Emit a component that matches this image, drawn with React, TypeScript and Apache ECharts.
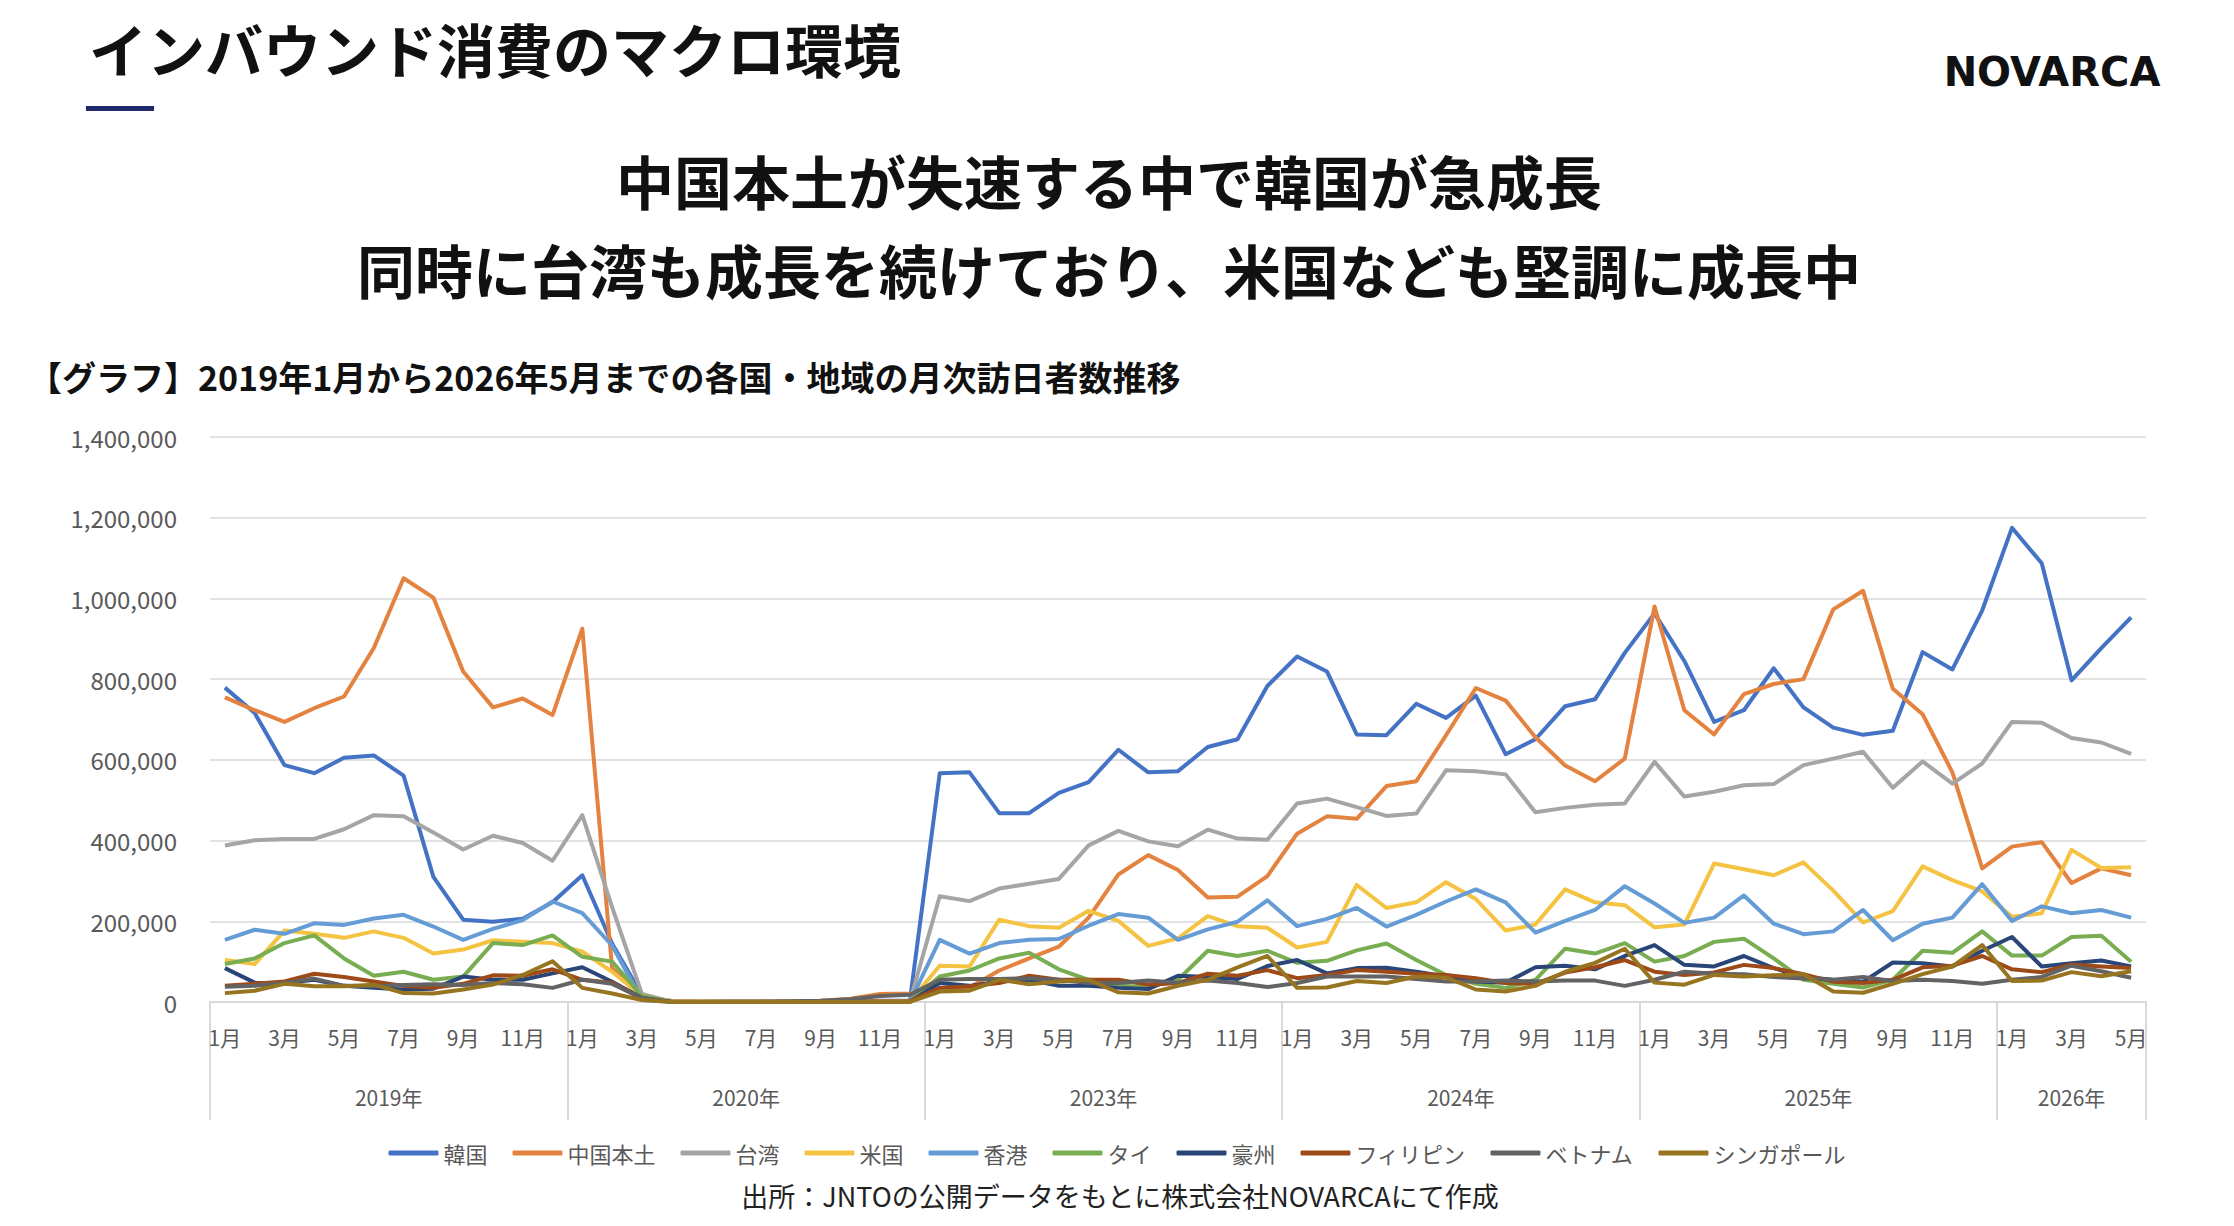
import React, { useEffect, useRef } from "react";
import * as echarts from "echarts";

// 横軸: 2019年・2020年・2023年〜2026年5月
const years = ["2019年", "2020年", "2023年", "2024年", "2025年", "2026年"];
const monthsPerYear = [12, 12, 12, 12, 12, 5];
const months = monthsPerYear.flatMap((n) => Array.from({ length: n }, (_, i) => `${i + 1}月`));

// 月次訪日者数（人）
const korea = [
  779000, 716000, 587000, 567000, 605000, 611000, 561000, 310000, 204000, 199000, 206000, 247000,
  314000, 145000, 17000, 1000, 500, 600, 700, 1000, 1500, 2000, 3000, 4000,
  567000, 569000, 468000, 468000, 518000, 545000, 625000, 569000, 572000, 632000, 651000, 783000,
  856000, 819000, 663000, 661000, 739000, 704000, 759000, 614000, 651000, 733000, 750000, 865000,
  963000, 845000, 694000, 723000, 827000, 730000, 680000, 662000, 672000, 867000, 824000, 970000,
  1175000, 1087000, 797000, 877000, 953000,
];
const china = [
  755000, 723000, 694000, 728000, 757000, 877000, 1050000, 1002000, 819000, 730000, 752000, 711000,
  925000, 84000, 10000, 3000, 1000, 1000, 1500, 2000, 3000, 8000, 20000, 21000,
  31000, 36000, 78000, 108000, 137000, 209000, 316000, 364000, 327000, 259000, 261000, 312000,
  417000, 460000, 454000, 535000, 547000, 661000, 778000, 747000, 656000, 586000, 547000, 603000,
  980000, 723000, 663000, 763000, 788000, 800000, 973000, 1019000, 776000, 713000, 569000, 331000,
  385000, 396000, 295000, 331000, 314000,
];
const taiwan = [
  388000, 401000, 404000, 404000, 428000, 463000, 460000, 420000, 378000, 412000, 394000, 350000,
  463000, 235000, 20000, 1000, 500, 500, 500, 500, 500, 1000, 1500, 2000,
  262000, 250000, 281000, 293000, 305000, 388000, 424000, 398000, 386000, 427000, 405000, 402000,
  492000, 504000, 483000, 461000, 467000, 574000, 572000, 564000, 470000, 481000, 489000, 492000,
  595000, 509000, 521000, 537000, 540000, 587000, 603000, 620000, 531000, 596000, 541000, 591000,
  694000, 692000, 654000, 643000, 615000,
];
const usa = [
  104000, 94000, 177000, 169000, 159000, 175000, 159000, 120000, 130000, 153000, 149000, 146000,
  125000, 75000, 15000, 1000, 1000, 1000, 1000, 1500, 1500, 1500, 1000, 1500,
  90000, 88000, 204000, 188000, 184000, 226000, 201000, 139000, 158000, 213000, 188000, 184000,
  135000, 149000, 290000, 233000, 247000, 297000, 255000, 177000, 192000, 279000, 247000, 240000,
  185000, 192000, 343000, 329000, 314000, 346000, 276000, 197000, 225000, 336000, 302000, 274000,
  211000, 220000, 377000, 332000, 334000,
];
const hongkong = [
  154000, 179000, 169000, 195000, 191000, 207000, 216000, 187000, 154000, 181000, 203000, 249000,
  220000, 140000, 5000, 300, 100, 100, 100, 100, 100, 200, 200, 200,
  154000, 120000, 146000, 154000, 156000, 189000, 218000, 209000, 154000, 180000, 199000, 252000,
  188000, 206000, 233000, 187000, 216000, 249000, 279000, 247000, 172000, 201000, 228000, 287000,
  244000, 196000, 209000, 264000, 194000, 168000, 175000, 228000, 153000, 194000, 209000, 292000,
  201000, 237000, 220000, 228000, 209000,
];
const thailand = [
  94000, 108000, 146000, 165000, 108000, 65000, 75000, 55000, 63000, 146000, 141000, 165000,
  112000, 100000, 15000, 500, 200, 200, 200, 200, 300, 500, 800, 1000,
  63000, 78000, 108000, 122000, 81000, 55000, 40000, 37000, 55000, 127000, 114000, 127000,
  97000, 102000, 128000, 145000, 104000, 67000, 45000, 35000, 55000, 132000, 120000, 146000,
  100000, 114000, 149000, 157000, 108000, 55000, 45000, 36000, 55000, 127000, 122000, 175000,
  115000, 115000, 161000, 164000, 100000,
];
const australia = [
  84000, 48000, 47000, 55000, 40000, 35000, 31000, 33000, 63000, 55000, 55000, 71000,
  86000, 50000, 10000, 300, 200, 200, 200, 200, 200, 300, 300, 500,
  47000, 40000, 51000, 55000, 40000, 40000, 35000, 32000, 65000, 62000, 57000, 89000,
  104000, 71000, 84000, 85000, 75000, 63000, 51000, 48000, 86000, 90000, 81000, 114000,
  141000, 92000, 88000, 114000, 84000, 62000, 55000, 50000, 98000, 96000, 88000, 127000,
  161000, 88000, 96000, 103000, 88000,
];
const philippines = [
  40000, 45000, 51000, 70000, 62000, 51000, 40000, 35000, 45000, 66000, 65000, 81000,
  55000, 48000, 8000, 300, 200, 200, 200, 300, 500, 1000, 1500, 2000,
  35000, 39000, 47000, 65000, 55000, 55000, 55000, 43000, 47000, 70000, 65000, 79000,
  59000, 67000, 79000, 75000, 70000, 67000, 59000, 47000, 45000, 73000, 86000, 104000,
  75000, 67000, 73000, 92000, 84000, 69000, 50000, 47000, 55000, 86000, 90000, 114000,
  81000, 74000, 93000, 88000, 84000,
];
const vietnam = [
  38000, 40000, 47000, 58000, 40000, 39000, 42000, 44000, 42000, 47000, 44000, 35000,
  55000, 45000, 10000, 500, 500, 1000, 1500, 2000, 3000, 7000, 15000, 18000,
  55000, 57000, 57000, 59000, 55000, 47000, 47000, 53000, 48000, 53000, 47000, 37000,
  47000, 63000, 63000, 63000, 57000, 51000, 51000, 53000, 51000, 53000, 53000, 40000,
  55000, 75000, 70000, 69000, 62000, 58000, 55000, 62000, 52000, 55000, 52000, 45000,
  55000, 62000, 90000, 76000, 60000,
];
const singapore = [
  22000, 28000, 45000, 39000, 39000, 43000, 22000, 21000, 31000, 43000, 67000, 101000,
  35000, 21000, 5000, 100, 100, 100, 100, 100, 100, 200, 300, 300,
  26000, 28000, 55000, 44000, 51000, 55000, 24000, 21000, 40000, 55000, 86000, 114000,
  35000, 36000, 52000, 47000, 63000, 61000, 31000, 26000, 40000, 75000, 97000, 132000,
  48000, 43000, 67000, 63000, 66000, 69000, 26000, 23000, 45000, 69000, 88000, 141000,
  52000, 53000, 74000, 64000, 76000,
];

const seriesList = [
  { name: "韓国", data: korea, color: "#4472C4" },
  { name: "中国本土", data: china, color: "#E4823F" },
  { name: "台湾", data: taiwan, color: "#A5A5A5" },
  { name: "米国", data: usa, color: "#F5C342" },
  { name: "香港", data: hongkong, color: "#659CD6" },
  { name: "タイ", data: thailand, color: "#78AD52" },
  { name: "豪州", data: australia, color: "#2A4678" },
  { name: "フィリピン", data: philippines, color: "#9E4A18" },
  { name: "ベトナム", data: vietnam, color: "#636363" },
  { name: "シンガポール", data: singapore, color: "#977420" },
];

const FONT = '"Noto Sans CJK JP", "Noto Sans", sans-serif';

// 年の区切りと年ラベルの位置（カテゴリ数単位）
const yearBounds = [0];
monthsPerYear.forEach((n, i) => yearBounds.push(yearBounds[i] + n));
const yearCenters = monthsPerYear.map((n, i) => yearBounds[i] + n / 2);

const App: React.FC = () => {
  const chartRef = useRef<HTMLDivElement>(null);

  useEffect(() => {
    if (!chartRef.current) return;
    const chart = echarts.init(chartRef.current, null, { renderer: "svg" });

    const option = {
      animation: false,
      textStyle: { fontFamily: FONT },
      graphic: [
        {
          type: "text",
          x: 89,
          y: 48,
          style: {
            text: "インバウンド消費のマクロ環境",
            fill: "#111",
            font: `bold 58px ${FONT}`,
            verticalAlign: "middle",
          },
        },
        {
          type: "rect",
          shape: { x: 86, y: 106, width: 68, height: 5 },
          style: { fill: "#1F2A6B" },
        },
        {
          type: "text",
          x: 2052,
          y: 72,
          style: {
            text: "NOVARCA",
            fill: "#111",
            font: `bold 40px "DejaVu Sans", sans-serif`,
            align: "center",
            verticalAlign: "middle",
          },
        },
        {
          type: "text",
          x: 1109,
          y: 180,
          style: {
            text: "中国本土が失速する中で韓国が急成長",
            fill: "#111",
            font: `bold 58px ${FONT}`,
            align: "center",
            verticalAlign: "middle",
          },
        },
        {
          type: "text",
          x: 1109,
          y: 269,
          style: {
            text: "同時に台湾も成長を続けており、米国なども堅調に成長中",
            fill: "#111",
            font: `bold 58px ${FONT}`,
            align: "center",
            verticalAlign: "middle",
          },
        },
        {
          type: "text",
          x: 28,
          y: 376,
          style: {
            text: "【グラフ】2019年1月から2026年5月までの各国・地域の月次訪日者数推移",
            fill: "#111",
            font: `bold 34px ${FONT}`,
            verticalAlign: "middle",
          },
        },
        {
          type: "text",
          x: 1120,
          y: 1195,
          style: {
            text: "出所：JNTOの公開データをもとに株式会社NOVARCAにて作成",
            fill: "#222",
            font: `27px ${FONT}`,
            align: "center",
            verticalAlign: "middle",
          },
        },
      ],
      legend: {
        left: "center",
        top: 1134,
        itemWidth: 50,
        itemHeight: 5,
        itemGap: 25,
        icon: "roundRect",
        textStyle: { fontSize: 22, color: "#595959", fontFamily: FONT, lineHeight: 28 },
        data: seriesList.map((s) => s.name),
      },
      grid: { left: 210, right: 88, top: 437, bottom: 224 },
      xAxis: [
        {
          type: "category",
          data: months,
          position: "bottom",
          boundaryGap: true,
          axisLine: { show: false },
          axisTick: { show: false },
          axisLabel: { interval: 1, color: "#595959", fontSize: 21, margin: 24, fontFamily: FONT },
        },
        {
          type: "value",
          min: 0,
          max: months.length,
          position: "bottom",
          splitLine: { show: false },
          axisLine: { show: true, lineStyle: { color: "#D9D9D9", width: 2 } },
          axisTick: {
            show: true,
            customValues: yearBounds,
            length: 118,
            lineStyle: { color: "#D9D9D9", width: 2 },
          },
          axisLabel: {
            customValues: yearCenters,
            margin: 84,
            color: "#595959",
            fontSize: 21,
            fontFamily: FONT,
            formatter: (v: number) => {
              const i = yearCenters.indexOf(v);
              return i >= 0 ? years[i] : "";
            },
          },
        },
      ],
      yAxis: {
        type: "value",
        min: 0,
        max: 1400000,
        interval: 200000,
        axisLine: { show: false },
        axisTick: { show: false },
        axisLabel: {
          color: "#595959",
          fontSize: 24,
          margin: 33,
          fontFamily: FONT,
          formatter: (v: number) => v.toLocaleString("en-US"),
        },
        splitLine: { lineStyle: { color: "#D9D9D9", width: 1.5 } },
      },
      series: seriesList.map((s) => ({
        name: s.name,
        type: "line",
        xAxisIndex: 0,
        data: s.data,
        symbol: "none",
        color: s.color,
        lineStyle: { width: 4, color: s.color, join: "round" },
      })),
    };

    chart.setOption(option);
    return () => {
      chart.dispose();
    };
  }, []);

  return (
    <div
      ref={chartRef}
      style={{ position: "absolute", left: 0, top: 0, width: 2234, height: 1226, background: "#fff" }}
    />
  );
};

export default App;
